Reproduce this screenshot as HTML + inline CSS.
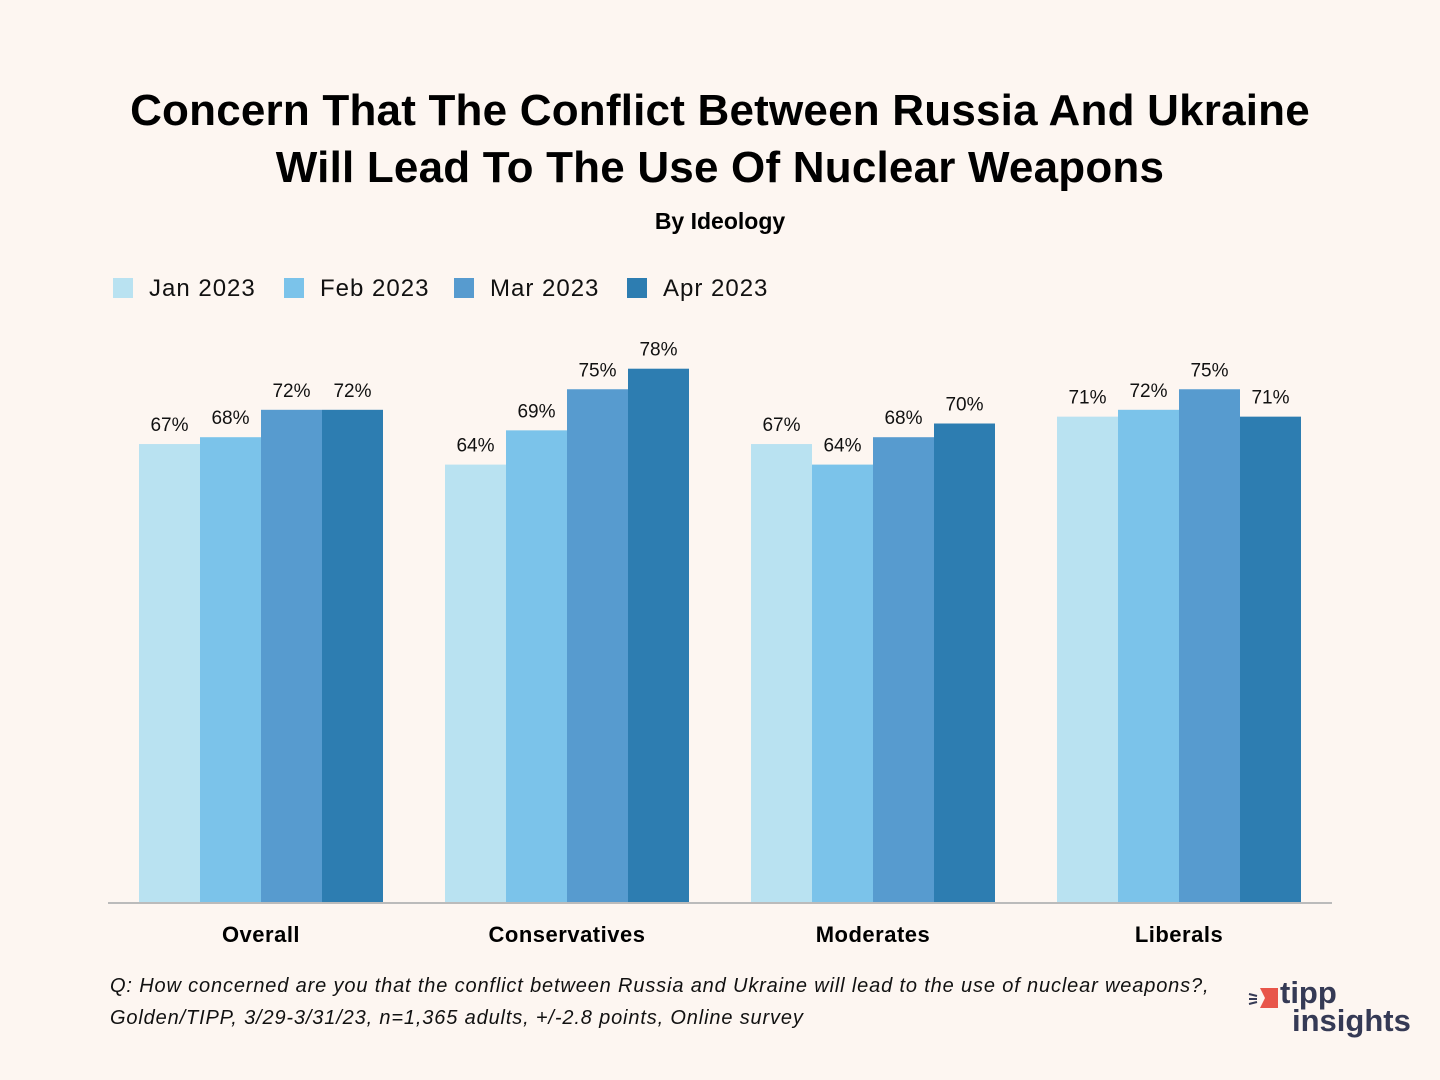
<!DOCTYPE html>
<html><head><meta charset="utf-8"><style>
body{margin:0;width:1440px;height:1080px;background:#fdf6f1;font-family:"Liberation Sans",sans-serif;position:relative;overflow:hidden}
.t{position:absolute;left:0;width:1440px;text-align:center;color:#000}
</style></head><body>
<div class="t" style="top:82px;font-size:44px;font-weight:bold;line-height:57px;letter-spacing:0.2px">Concern That The Conflict Between Russia And Ukraine<br>Will Lead To The Use Of Nuclear Weapons</div>
<div class="t" style="top:208px;font-size:23px;font-weight:bold">By Ideology</div>
<svg id="c" width="1440" height="1080" style="position:absolute;left:0;top:0"></svg>
<div style="position:absolute;left:110px;top:970px;font-size:20px;font-style:italic;line-height:32px;color:#111;letter-spacing:0.85px;white-space:nowrap">Q: How concerned are you that the conflict between Russia and Ukraine will lead to the use of nuclear weapons?,<br>Golden/TIPP, 3/29-3/31/23, n=1,365 adults, +/-2.8 points, Online survey</div>
<div style="position:absolute;left:1248px;top:980px;width:170px;height:60px">
<svg width="34" height="30" style="position:absolute;left:0;top:4px"><path d="M1 10 L9 12 M1 15 L9 15 M1 20 L9 18" stroke="#353a55" stroke-width="2"/><path d="M12 4 L30 4 L30 24 L12 24 L17 14 Z" fill="#e8554a"/></svg>
<div style="position:absolute;left:32px;top:-4px;font-size:31px;font-weight:bold;color:#353a55;line-height:34px">tipp</div>
<div style="position:absolute;left:44px;top:24px;font-size:31px;font-weight:bold;color:#353a55;line-height:34px">insights</div>
</div>
<script>
const categories=["Overall","Conservatives","Moderates","Liberals"];
const seriesNames=["Jan 2023","Feb 2023","Mar 2023","Apr 2023"];
const jan=[67,64,67,71];
const feb=[68,69,64,72];
const mar=[72,75,68,75];
const apr=[72,78,70,71];
const series=[jan,feb,mar,apr];
const colors=["#b9e2f1","#7bc3ea","#579bcf","#2d7db1"];
const svg=document.getElementById('c');const NS="http://www.w3.org/2000/svg";
function mk(t,a,txt){const e=document.createElementNS(NS,t);for(const k in a)e.setAttribute(k,a[k]);if(txt!==undefined)e.textContent=txt;svg.appendChild(e);return e;}
const base=903,scale=6.85,groupX=i=>139+i*306,bw=61;
const y=v=>base-v*scale;
categories.forEach((c,i)=>{
 series.forEach((s,j)=>{
  const x=groupX(i)+j*bw;
  const r=mk('rect',{x:x,y:y(s[i]),width:bw,height:base-y(s[i]),fill:colors[j]});
  
  
  const t=mk('text',{x:x+bw/2,y:y(s[i])-13,'text-anchor':'middle','font-size':19,'font-family':'Liberation Sans, sans-serif',fill:'#111'},s[i]+'%');
  
  
 });
 const l=mk('text',{x:groupX(i)+2*bw,y:942,'text-anchor':'middle','font-size':22,'font-weight':'bold','font-family':'Liberation Sans, sans-serif',fill:'#000','letter-spacing':'0.5'},c);
 
 
});
const ax=mk('line',{x1:108,x2:1332,y1:903,y2:903,stroke:'#bbb','stroke-width':2});


const lx=[113,284,454,627];
seriesNames.forEach((n,j)=>{
 const r=mk('rect',{x:lx[j],y:278,width:20,height:20,fill:colors[j]});
 
 
 const t=mk('text',{x:lx[j]+36,y:296,'font-size':24,'font-family':'Liberation Sans, sans-serif',fill:'#111','letter-spacing':'1'},n);
 
 
});
</script>
</body></html>
